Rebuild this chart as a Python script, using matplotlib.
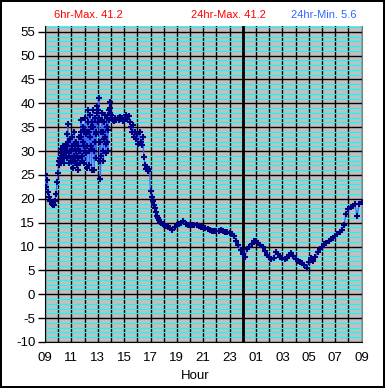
import numpy as np
import matplotlib
matplotlib.use("Agg")
import matplotlib.pyplot as plt
from matplotlib.ticker import MultipleLocator

# 5-minute samples, 09:00 - 09:55
temps_a = [25.2, 22.4, 24.0, 21.5, 20.3, 19.5, 19.0, 18.6, 18.8, 19.5, 21.0, 23.5]
# 2-minute samples, 10:00 - 13:58
temps_b = [
    25.5, 27.0, 28.0, 28.5, 27.8,  28.5, 29.5, 30.5, 29.0, 28.0,
    29.5, 31.0, 30.0, 28.5, 27.6,  29.0, 30.5, 31.5, 29.5, 28.5,
    31.0, 33.5, 35.7, 32.0, 29.0,  27.5, 30.0, 32.5, 30.0, 28.5,
    30.0, 33.0, 31.0, 28.0, 26.5,  29.0, 31.5, 34.0, 30.5, 28.0,
    30.0, 32.0, 29.0, 27.0, 26.0,  28.5, 31.0, 33.0, 30.0, 27.5,
    30.0, 34.0, 36.5, 33.0, 29.0,  28.0, 32.0, 35.0, 31.0, 27.5,
    30.0, 34.5, 37.0, 33.5, 29.5,  26.5, 31.0, 36.0, 38.5, 34.0,
    30.0, 27.0, 33.0, 37.5, 35.0,  31.0, 26.0, 30.5, 36.0, 38.5,
    35.0, 30.0, 26.0, 32.0, 37.0,  34.0, 28.5, 33.5, 38.0, 39.5,
    36.0, 38.5, 41.2, 37.0, 32.0,  28.0, 24.2, 29.0, 34.0, 36.5,
    38.0, 34.0, 30.0, 28.0, 32.5,  36.0, 37.5, 33.0, 29.5, 31.5,
    35.0, 37.0, 32.0, 30.0, 34.5,  36.5, 38.5, 40.3, 39.0, 38.0,
]
# 5-minute samples, 14:00 - 17:55
temps_c = [
    37.5, 37.0, 36.5, 36.2, 37.0, 36.5, 37.0, 36.6, 37.2, 36.8, 37.0, 36.3,
    36.5, 37.0, 37.5, 36.8, 37.3, 36.0, 35.0, 34.0, 35.5, 33.0, 34.0, 32.5,
    33.5, 31.5, 34.0, 32.0, 31.2, 33.0, 28.7, 27.0, 26.2, 26.5, 25.8, 26.2,
    21.7, 20.3, 19.5, 18.8, 18.0, 17.2, 16.5, 16.0, 15.5, 15.2, 15.0, 14.8,
]
# 10-minute samples, 18:00 - 09:00
temps_d = [
    14.5, 14.2, 14.0, 13.8, 13.5, 14.0, 14.5, 14.8, 15.0, 15.3, 14.8, 14.5,
    14.5, 14.6, 14.6, 14.5, 14.3, 14.1, 14.0, 13.8, 13.6, 13.4, 13.2, 13.2,
    13.2, 13.3, 13.4, 13.2, 13.1, 13.0, 12.9, 12.7, 12.2, 11.2, 10.3, 9.2,
    8.5, 7.9, 9.5, 10.0, 10.6, 11.2, 11.2, 10.8, 10.4, 9.8, 9.0, 8.3,
    7.8, 7.4, 7.6, 8.8, 8.5, 7.8, 7.5, 7.4, 7.6, 8.2, 8.6, 8.0,
    7.4, 7.0, 6.8, 6.5, 6.1, 5.6, 6.8, 7.5, 7.0, 7.8, 8.8, 9.4,
    10.0, 10.6, 10.8, 11.2, 11.6, 11.8, 12.2, 12.6, 13.0, 13.4, 14.5, 16.9,
    17.8, 18.2, 18.5, 18.9, 16.5, 19.0, 19.4,
]
x_labels = ["09", "11", "13", "15", "17", "19", "21", "23", "01", "03", "05", "07", "09"]
stat_texts = ["6hr-Max. 41.2", "24hr-Max. 41.2", "24hr-Min. 5.6"]

# hours since 09:00 for each segment
t_a = 0.0 + np.arange(len(temps_a)) * 5 / 60.0
t_b = 1.0 + np.arange(len(temps_b)) * 2 / 60.0
t_c = 5.0 + np.arange(len(temps_c)) * 5 / 60.0
t_d = 9.0 + np.arange(len(temps_d)) * 10 / 60.0
times = np.concatenate([t_a, t_b, t_c, t_d])
temps = np.concatenate([temps_a, temps_b, temps_c, temps_d])

FONT = "Liberation Sans"
fig = plt.figure(figsize=(3.85, 3.88), dpi=100, facecolor="white",
                 edgecolor="black", linewidth=1.5)
ax = fig.add_axes([45 / 385, 1 - 342 / 388, (361.5 - 45) / 385, (342 - 26) / 388])
ax.set_facecolor("#C0C0C0")
ax.set_xlim(0, 24)
ax.set_ylim(-10, 56.2)

ax.yaxis.set_major_locator(MultipleLocator(5))
ax.yaxis.set_minor_locator(MultipleLocator(1))
ax.xaxis.set_major_locator(MultipleLocator(2))
ax.xaxis.set_minor_locator(MultipleLocator(1))
ax.grid(which="minor", axis="y", color="#00FFFF", linewidth=0.8, zorder=0)
ax.grid(which="major", axis="y", color="black", linewidth=1.0, zorder=1)
ax.grid(which="both", axis="x", color="black", linewidth=1.0, zorder=1)
ax.set_axisbelow(True)
ax.axvline(15, color="black", linewidth=2.0, zorder=2)

ax.plot(times, temps, color="#3366FF", linewidth=0.9, zorder=3)
ax.plot(times, temps, linestyle="none", marker="+", color="#000080",
        markersize=5, markeredgewidth=1.5, zorder=4)

ax.set_xticks(np.arange(0, 25, 2))
ax.set_xticklabels(x_labels, fontsize=9.5, family=FONT)
ax.tick_params(axis="x", which="both", length=0, pad=7)
ax.set_yticks(np.arange(-10, 56, 5))
ax.set_yticklabels([str(v) for v in range(-10, 56, 5)], fontsize=9.5, family=FONT)
ax.tick_params(axis="y", which="major", length=5, width=1, direction="out", pad=2)
ax.tick_params(axis="y", which="minor", length=0)

ax.spines["top"].set_visible(False)
ax.spines["right"].set_color("#808080")
ax.spines["left"].set_color("black")
ax.spines["bottom"].set_color("black")

fig.text(195 / 385, 1 - 376 / 388, "Hour", ha="center", va="center", fontsize=9.5, family=FONT)
fig.text(88 / 385, 1 - 15 / 388, stat_texts[0], ha="center", va="center", fontsize=8, color="#FF0000", family=FONT)
fig.text(228 / 385, 1 - 15 / 388, stat_texts[1], ha="center", va="center", fontsize=8, color="#FF0000", family=FONT)
fig.text(324 / 385, 1 - 15 / 388, stat_texts[2], ha="center", va="center", fontsize=8, color="#3366FF", family=FONT)

fig.savefig("out.png", dpi=100, facecolor="white", edgecolor="black")
